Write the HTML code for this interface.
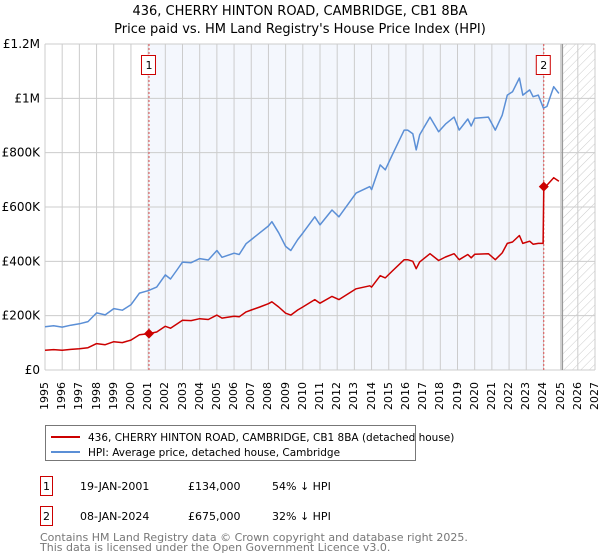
<!DOCTYPE html>
<html><head><meta charset="utf-8"><style>
body{margin:0;background:#fff;font-family:"Liberation Sans","DejaVu Sans",sans-serif;}
#wrap{position:relative;width:600px;height:560px;}
svg text{font-family:"DejaVu Sans","Liberation Sans",sans-serif;}
.xl{position:absolute;top:382px;width:14px;font:11px/14px "DejaVu Sans","Liberation Sans",sans-serif;writing-mode:vertical-rl;transform:rotate(180deg);text-align:left;white-space:nowrap;color:#000;}
</style></head><body>
<div id="wrap">
<svg id="chart" width="600" height="560" xmlns="http://www.w3.org/2000/svg" style="position:absolute;left:0;top:0">
<defs><pattern id="hatch" width="6" height="6" patternUnits="userSpaceOnUse" patternTransform="rotate(45)"><line x1="0" y1="0" x2="0" y2="6" stroke="#ccc" stroke-width="1"/></pattern></defs>
<text x="300" y="15" text-anchor="middle" font-size="13">436, CHERRY HINTON ROAD, CAMBRIDGE, CB1 8BA</text>
<text x="300" y="33" text-anchor="middle" font-size="13">Price paid vs. HM Land Registry's House Price Index (HPI)</text>
<g id="plot"></g>
<g>
<rect x="45.5" y="425.5" width="370" height="35" fill="#fff" stroke="#777"/>
<line x1="51" y1="437" x2="80" y2="437" stroke="#cc0000" stroke-width="2"/>
<text x="88" y="441" font-size="10.5">436, CHERRY HINTON ROAD, CAMBRIDGE, CB1 8BA (detached house)</text>
<line x1="51" y1="452" x2="80" y2="452" stroke="#5b8fd6" stroke-width="2"/>
<text x="88" y="456" font-size="10.5">HPI: Average price, detached house, Cambridge</text>
</g>
<g font-size="11">
<rect x="40.5" y="476.5" width="12" height="19" fill="#fff" stroke="#cc0000"/><text x="46.5" y="490" text-anchor="middle">1</text>
<text x="80" y="490">19-JAN-2001</text><text x="188" y="490">£134,000</text><text x="272" y="490">54% ↓ HPI</text>
<rect x="40.5" y="506.5" width="12" height="19" fill="#fff" stroke="#cc0000"/><text x="46.5" y="520" text-anchor="middle">2</text>
<text x="80" y="520">08-JAN-2024</text><text x="188" y="520">£675,000</text><text x="272" y="520">32% ↓ HPI</text>
</g>
<text x="40" y="541" font-size="11" fill="#777">Contains HM Land Registry data © Crown copyright and database right 2025.</text>
<text x="40" y="551" font-size="11" fill="#777">This data is licensed under the Open Government Licence v3.0.</text>
</svg>
<div id="xlabels"></div>
</div>
<script>
const hpiDates=[1995,1995.5,1996,1996.5,1997,1997.5,1998,1998.5,1999,1999.5,2000,2000.5,2001,2001.5,2002,2002.3,2002.7,2003,2003.5,2004,2004.5,2005,2005.3,2006,2006.3,2006.7,2007,2007.5,2008,2008.2,2008.6,2009,2009.3,2009.7,2010,2010.7,2011,2011.7,2012.1,2013.1,2013.9,2014.0,2014.5,2014.8,2015.2,2015.9,2016.1,2016.4,2016.6,2016.8,2017.4,2017.9,2018.3,2018.8,2019.1,2019.6,2019.8,2020.0,2020.8,2021.2,2021.6,2021.9,2022.2,2022.6,2022.8,2023.2,2023.4,2023.7,2024.0,2024.2,2024.6,2024.9];
const hpiValues=[159,163,158,165,170,178,210,203,226,220,240,283,292,305,350,335,370,397,395,410,405,440,415,430,425,465,480,505,530,546,505,455,440,480,504,564,534,589,564,651,675,664,755,737,791,883,883,870,810,866,931,877,905,931,883,924,898,927,931,883,938,1012,1024,1075,1012,1031,1006,1012,964,970,1043,1018];
const redDates=[1995,1995.5,1996,1996.5,1997,1997.5,1998,1998.5,1999,1999.5,2000,2000.5,2001.05,2001.5,2002,2002.3,2002.7,2003,2003.5,2004,2004.5,2005,2005.3,2006,2006.3,2006.7,2007,2007.5,2008,2008.2,2008.6,2009,2009.3,2009.7,2010,2010.7,2011,2011.7,2012.1,2013.1,2013.9,2014.0,2014.5,2014.8,2015.2,2015.9,2016.1,2016.4,2016.6,2016.8,2017.4,2017.9,2018.3,2018.8,2019.1,2019.6,2019.8,2020.0,2020.8,2021.2,2021.6,2021.9,2022.2,2022.6,2022.8,2023.2,2023.4,2023.7,2023.98,2024.02,2024.2,2024.6,2024.9];
const redValues=[73,75,73,76,78,82,97,93,104,101,110,130,134,140,161,154,170,183,182,189,186,202,191,198,196,214,221,232,244,251,232,209,202,221,232,259,246,271,259,299,310,305,347,339,364,406,406,400,373,398,428,403,416,428,406,425,413,426,428,406,431,466,471,495,466,474,463,466,466,675,680,708,695];
const saleDates=[2001.05,2024.02];
const saleValues=[134,675];
const saleLabels=["1","2"];
const yTicks=[0,200,400,600,800,1000,1200];
const yTickLabels=["£0","£200K","£400K","£600K","£800K","£1M","£1.2M"];
const xYears=[1995,1996,1997,1998,1999,2000,2001,2002,2003,2004,2005,2006,2007,2008,2009,2010,2011,2012,2013,2014,2015,2016,2017,2018,2019,2020,2021,2022,2023,2024,2025,2026,2027];
const dataEnd=2025.1;

const L=45,R=595,T=44,B=370;
const X=d=>L+(d-1995)/(2027-1995)*(R-L);
const Y=v=>B-v/1200*(B-T);
const ns="http://www.w3.org/2000/svg";
const g=document.getElementById('plot');
function mk(tag,attrs,parent){const e=document.createElementNS(ns,tag);for(const k in attrs)e.setAttribute(k,attrs[k]);(parent||g).appendChild(e);return e;}

let e=mk('rect',{x:X(saleDates[0]),y:T,width:X(saleDates[1])-X(saleDates[0]),height:B-T,fill:'#f4f7fd'});


e=mk('rect',{x:X(dataEnd),y:T,width:R-X(dataEnd),height:B-T,fill:'url(#hatch)'});


const xl=document.getElementById('xlabels');
xYears.forEach(yr=>{
  e=mk('line',{x1:X(yr),x2:X(yr),y1:T,y2:B,stroke:'#cccccc','stroke-width':1});
  
  
  const d=document.createElement('div');
  d.className='xl';
  d.style.left=(X(yr)-7)+'px';
  d.textContent=yr;
  
  
  xl.appendChild(d);
});
yTicks.forEach((v,i)=>{
  e=mk('line',{x1:L,x2:R,y1:Y(v),y2:Y(v),stroke:'#cccccc','stroke-width':1});
  
  
  const t=mk('text',{x:40,y:Y(v)+4,'font-size':12,'text-anchor':'end'});
  t.textContent=yTickLabels[i];
  
  
});
e=mk('line',{x1:X(dataEnd),x2:X(dataEnd),y1:T,y2:B,stroke:'#999','stroke-width':1.5});


saleDates.forEach((d,i)=>{
  e=mk('line',{x1:X(d),x2:X(d),y1:T,y2:B,stroke:'#e05050','stroke-width':1,'stroke-dasharray':'2,2'});
  
  
  e=mk('rect',{x:X(d)-7.5,y:55.5,width:14,height:19,fill:'#fff',stroke:'#cc0000'});
  
  
  const t=mk('text',{x:X(d),y:69,'font-size':11,'text-anchor':'middle'});
  t.textContent=saleLabels[i];
  
  
});
const pts=(ds,vs)=>ds.map((d,i)=>X(d).toFixed(1)+','+Y(vs[i]).toFixed(1)).join(' ');
e=mk('polyline',{points:pts(hpiDates,hpiValues),fill:'none',stroke:'#5b8fd6','stroke-width':1.5,'stroke-linejoin':'round'});


e=mk('polyline',{points:pts(redDates,redValues),fill:'none',stroke:'#cc0000','stroke-width':1.5,'stroke-linejoin':'round'});


saleDates.forEach((d,i)=>{
  const x=X(d),y=Y(saleValues[i]);
  e=mk('polygon',{points:`${x},${y-5} ${x+5},${y} ${x},${y+5} ${x-5},${y}`,fill:'#cc0000'});
  
  
});
</script>
</body></html>
